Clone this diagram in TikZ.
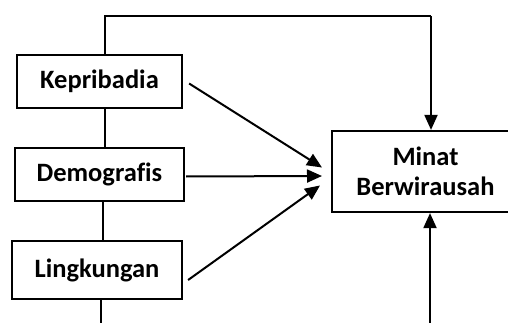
\documentclass[tikz,border=0pt]{standalone}
\usepackage{fontspec}
\setmainfont{Carlito}[Ligatures=CommonOff]
\usetikzlibrary{arrows.meta,calc}
\begin{document}
\begin{tikzpicture}[x=1pt,y=-1pt,
  lbl/.style={inner sep=0pt,font=\bfseries\fontsize{26.5}{30}\selectfont,align=center},
  box/.style={lbl,draw,line width=2.2pt,minimum width=#1},
  conn/.style={line width=1.8pt},
  arr/.style={line width=2pt,-{Triangle[length=15pt,width=13pt]}}]
\useasboundingbox (0,0) rectangle (508,323);
\clip (0,0) rectangle (508,323);
\node[box=165pt,minimum height=53pt] (kep) at (99.5,81.5) {Kepribadia};
\node[box=169pt,minimum height=53pt] (dem) at (99.5,174.5) {Demografis};
\node[box=170pt,minimum height=58pt] (lin) at (97,270) {Lingkungan};
\node[box=240pt,minimum height=81pt,anchor=west] (min) at (331,171.5) {};
\node[lbl] (mintxt) at (425.5,171.5) {Minat\\Berwirausah};
\coordinate (tl) at (105,16);
\coordinate (tr) at (431,16);
\coordinate (ml) at (103,0);
\coordinate (bl) at (101,323);
\coordinate (br) at (430,323);
\draw[conn] (kep.north -| tl) -- (tl) -- (tr);
\draw[arr] (tr) -- (min.north -| tr);
\draw[conn] (kep.south -| tl) -- (dem.north -| tl);
\draw[conn] (dem.south -| ml) -- (lin.north -| ml);
\draw[conn] (lin.south -| bl) -- (bl);
\draw[arr] (br) -- (min.south -| br);
\draw[arr] ($(kep.east)+(6,2)$) -- ($(min.west)+(-9,-4)$);
\draw[arr] ($(dem.east)+(1,2)$) -- ($(min.west)+(-9,4.5)$);
\draw[arr] ($(lin.east)+(5,10)$) -- ($(min.west)+(-11,14)$);
\end{tikzpicture}
\end{document}
